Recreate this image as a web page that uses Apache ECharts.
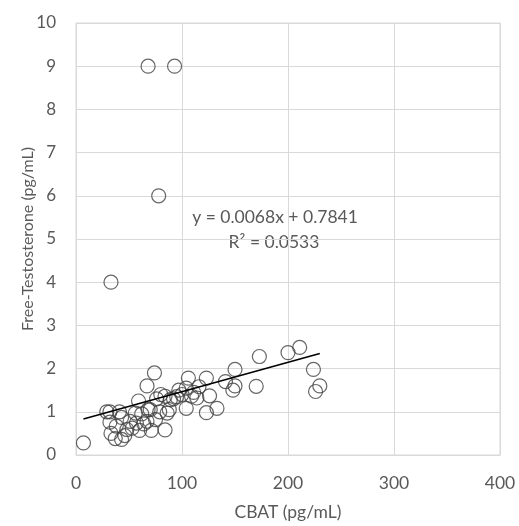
<!DOCTYPE html>
<html><head><meta charset="utf-8">
<script src="https://cdn.jsdelivr.net/npm/echarts@6/dist/echarts.min.js"></script>
<style>html,body{margin:0;padding:0;background:#fff}#c{width:519px;height:526px}</style>
</head><body><div id="c"></div>
<script>
var cbat = [7,33,68,93,78,
  29,32,32,33,37,38,41,43,43,48,51,56,57,59,60,62,67,67,68,70,71,74,75,76,79,80,84,84,86,89,92,97,100,104,104,106,109,111,114,116,123,123,126,133,141,148,150,150,170,173,200,211,224,230,226,
  46,53,64,88,95];
var freeT = [0.28,4,9,9,6,
  1.0,1.0,0.76,0.5,0.38,0.67,1.0,0.87,0.36,0.59,0.78,0.97,0.74,1.25,0.57,0.95,1.6,0.78,1.05,1.05,0.57,1.9,0.82,1.3,1.0,1.4,0.58,1.36,0.97,1.28,1.3,1.5,1.4,1.55,1.08,1.78,1.36,1.45,1.32,1.58,1.78,0.98,1.37,1.08,1.7,1.5,1.98,1.6,1.59,2.28,2.37,2.49,1.98,1.6,1.47,
  0.45,0.62,0.72,1.05,1.35];
var trendX = [7, 230];
var trendY = [0.832, 2.348];
var xTicks = [0,100,200,300,400];
var yTicks = [0,1,2,3,4,5,6,7,8,9,10];
var eqText = 'y = 0.0068x + 0.7841';
var r2Text = 'R\u00b2 = 0.0533';

var pts = cbat.map(function(x,i){return [x, freeT[i]];});
var tline = trendX.map(function(x,i){return [x, trendY[i]];});
var font = 'Lato, "Noto Sans", sans-serif';
var chart = echarts.init(document.getElementById('c'), null, {renderer:'canvas'});
chart.setOption({
  animation:false,
  grid:{left:76,right:19,top:23,bottom:66,show:true,borderColor:'#d9d9d9',borderWidth:1},
  xAxis:{type:'value',min:xTicks[0],max:xTicks[xTicks.length-1],interval:100,
    name:'CBAT (pg/mL)',nameLocation:'middle',nameGap:48,nameMoveOverlap:false,
    nameTextStyle:{color:'#595959',fontSize:17.5,fontFamily:font},
    axisLine:{show:true,lineStyle:{color:'#d9d9d9'}},axisTick:{show:false},
    axisLabel:{color:'#595959',fontSize:17.5,fontFamily:font,margin:19},
    splitLine:{show:true,lineStyle:{color:'#d9d9d9',width:1}}},
  yAxis:{type:'value',min:yTicks[0],max:yTicks[yTicks.length-1],interval:1,
    name:'Free-Testosterone (pg/mL)',nameLocation:'middle',nameGap:40,nameRotate:90,nameMoveOverlap:false,
    nameTextStyle:{color:'#595959',fontSize:16,fontFamily:font},
    axisLine:{show:true,lineStyle:{color:'#d9d9d9'}},axisTick:{show:false},
    axisLabel:{color:'#595959',fontSize:17,fontFamily:font,margin:20},
    splitLine:{show:true,lineStyle:{color:'#d9d9d9',width:1}}},
  series:[
    {type:'scatter',data:pts,symbol:'circle',symbolSize:14,
     itemStyle:{color:'rgba(255,255,255,0)',borderColor:'#404040',borderWidth:1.2},z:3},
    {type:'line',data:tline,symbol:'none',lineStyle:{color:'#000',width:1.6},z:4,silent:true}
  ],
  graphic:[
    {type:'text',x:275,y:217,style:{text:eqText,textAlign:'center',textVerticalAlign:'middle',fill:'#595959',font:'17.5px '+font}},
    {type:'text',x:274,y:242,style:{text:r2Text,textAlign:'center',textVerticalAlign:'middle',fill:'#595959',font:'17.5px '+font}}
  ]
});
</script></body></html>
